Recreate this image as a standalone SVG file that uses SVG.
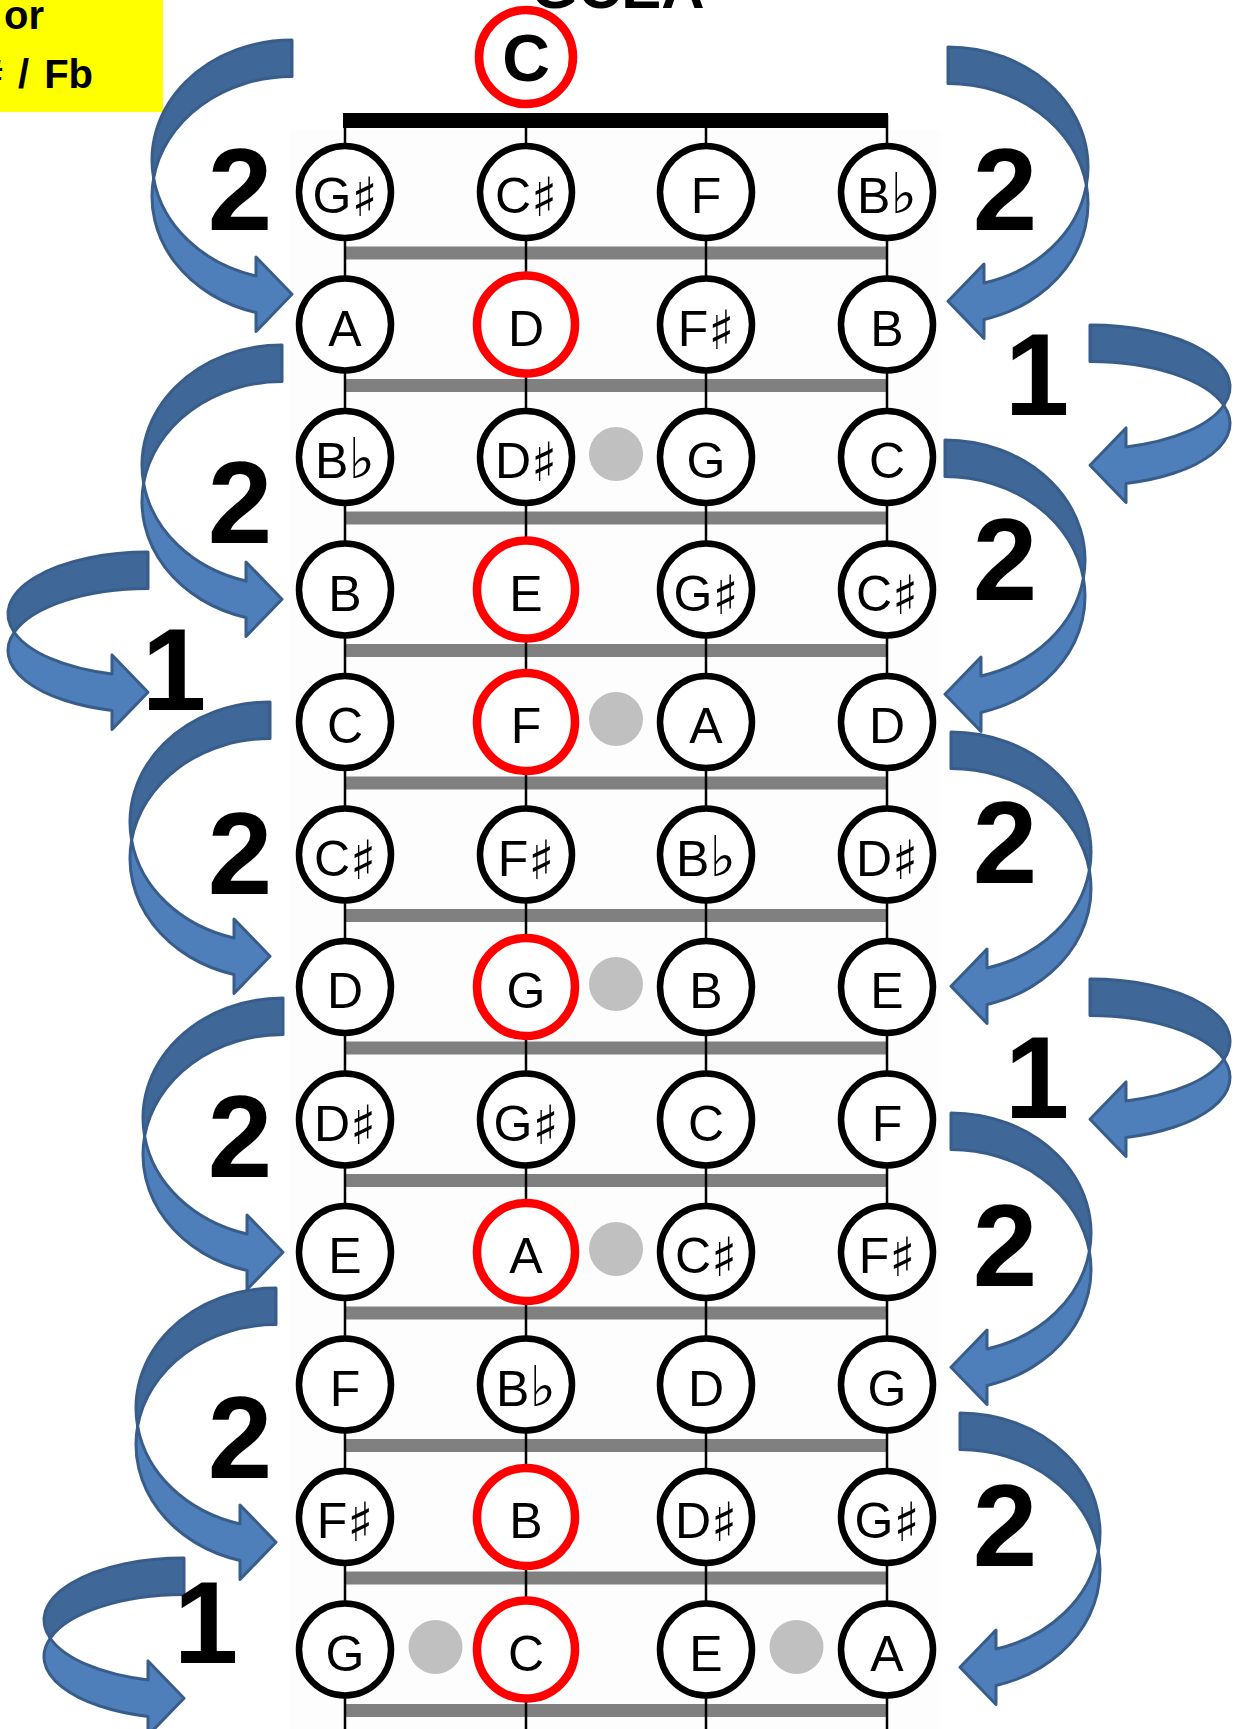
<svg xmlns="http://www.w3.org/2000/svg" xmlns:xlink="http://www.w3.org/1999/xlink" width="1240" height="1729" viewBox="0 0 1240 1729">
<style>
.c{fill:#fff;stroke:#000;stroke-width:6.5}
.r{fill:#fff;stroke:#ff0000;stroke-width:8.5}
.n{font-family:"Liberation Sans",Arial,sans-serif;font-size:50px;fill:#000;text-anchor:middle}
.s{font-family:"DejaVu Sans",sans-serif;font-size:54px}
.f{font-family:"DejaVu Sans",sans-serif;font-size:56px}
.num{font-family:"Liberation Sans",Arial,sans-serif;font-weight:bold;font-size:116px;fill:#000;text-anchor:middle}
.fret{fill:#808080}
.str{stroke:#000;stroke-width:2.5}
.dot{fill:#c0c0c0}
.back{fill:#3f6797;stroke:#385d8a;stroke-width:3;stroke-linejoin:round}
.front{fill:#4e7fbb;stroke:#385d8a;stroke-width:3;stroke-linejoin:round}
.hd{font-family:"Liberation Sans",Arial,sans-serif;font-weight:bold;fill:#000}
</style>
<defs>
<g id="bigArrow">
<path class="back" d="M0 0 A140 120 0 0 0 -138.37 138.25 A140 120 0 0 1 0 36.5 Z"/>
<path class="front" d="M-138.37 138.25 A140 120 0 0 0 -36 272.47 L-36 291.47 L0 254.22 L-36 216.97 L-36 235.97 A140 120 0 0 1 -138.37 138.25 Z"/>
</g>
<g id="smallArrow">
<path class="back" d="M0 0 A140 62 0 0 0 -133.8 80.25 A140 62 0 0 1 0 36.5 Z"/>
<path class="front" d="M-133.8 80.25 A140 62 0 0 0 -36 158.42 L-36 177.42 L0 140.17 L-36 102.92 L-36 121.92 A140 62 0 0 1 -133.8 80.25 Z"/>
</g>
</defs>
<rect width="1240" height="1729" fill="#fff"/>
<g id="header">
<rect x="0" y="0" width="163" height="112" fill="#ffff00"/>
<text class="hd" x="4" y="29" font-size="40">or</text>
<text class="hd" x="93" y="88" font-size="40" text-anchor="end" word-spacing="4"># / Fb</text>
<text class="hd" x="618" y="8" font-size="60" text-anchor="middle">GCEA</text>
</g>
<g id="fretboard">
<rect x="290" y="130" width="650" height="1599" fill="#fdfdfd"/>
<rect class="fret" x="345" y="246.5" width="542" height="13"/>
<rect class="fret" x="345" y="379" width="542" height="13"/>
<rect class="fret" x="345" y="511.5" width="542" height="13"/>
<rect class="fret" x="345" y="644" width="542" height="13"/>
<rect class="fret" x="345" y="776.5" width="542" height="13"/>
<rect class="fret" x="345" y="909" width="542" height="13"/>
<rect class="fret" x="345" y="1041.5" width="542" height="13"/>
<rect class="fret" x="345" y="1174" width="542" height="13"/>
<rect class="fret" x="345" y="1306.5" width="542" height="13"/>
<rect class="fret" x="345" y="1439" width="542" height="13"/>
<rect class="fret" x="345" y="1571.5" width="542" height="13"/>
<rect class="fret" x="345" y="1704" width="542" height="13"/>
<line class="str" x1="345" y1="115" x2="345" y2="1729"/>
<line class="str" x1="526" y1="115" x2="526" y2="1729"/>
<line class="str" x1="706" y1="115" x2="706" y2="1729"/>
<line class="str" x1="887" y1="115" x2="887" y2="1729"/>
<rect x="343" y="113" width="545" height="15" fill="#000"/>
<circle class="dot" cx="616" cy="454" r="27"/>
<circle class="dot" cx="616" cy="719" r="27"/>
<circle class="dot" cx="616" cy="984" r="27"/>
<circle class="dot" cx="616" cy="1249" r="27"/>
<circle class="dot" cx="435.5" cy="1647" r="27"/>
<circle class="dot" cx="796.5" cy="1647" r="27"/>
</g>
<g id="open-C"><circle class="r" cx="526" cy="57" r="47"/><text class="hd" x="526" y="81" font-size="66" text-anchor="middle">C</text></g>
<g id="n1-1"><circle class="c" cx="345" cy="192" r="46"/><text class="n" x="345" y="213">G<tspan class="s" dy="3">♯</tspan></text></g>
<g id="n1-2"><circle class="c" cx="526" cy="192" r="46"/><text class="n" x="526" y="213">C<tspan class="s" dy="3">♯</tspan></text></g>
<g id="n1-3"><circle class="c" cx="706" cy="192" r="46"/><text class="n" x="706" y="213">F</text></g>
<g id="n1-4"><circle class="c" cx="887" cy="192" r="46"/><text class="n" x="887" y="213">B<tspan class="f">♭</tspan></text></g>
<g id="n2-1"><circle class="c" cx="345" cy="324.5" r="46"/><text class="n" x="345" y="345.5">A</text></g>
<g id="n2-2"><circle class="r" cx="526" cy="324.5" r="49"/><text class="n" x="526" y="345.5">D</text></g>
<g id="n2-3"><circle class="c" cx="706" cy="324.5" r="46"/><text class="n" x="706" y="345.5">F<tspan class="s" dy="3">♯</tspan></text></g>
<g id="n2-4"><circle class="c" cx="887" cy="324.5" r="46"/><text class="n" x="887" y="345.5">B</text></g>
<g id="n3-1"><circle class="c" cx="345" cy="457" r="46"/><text class="n" x="345" y="478">B<tspan class="f">♭</tspan></text></g>
<g id="n3-2"><circle class="c" cx="526" cy="457" r="46"/><text class="n" x="526" y="478">D<tspan class="s" dy="3">♯</tspan></text></g>
<g id="n3-3"><circle class="c" cx="706" cy="457" r="46"/><text class="n" x="706" y="478">G</text></g>
<g id="n3-4"><circle class="c" cx="887" cy="457" r="46"/><text class="n" x="887" y="478">C</text></g>
<g id="n4-1"><circle class="c" cx="345" cy="589.5" r="46"/><text class="n" x="345" y="610.5">B</text></g>
<g id="n4-2"><circle class="r" cx="526" cy="589.5" r="49"/><text class="n" x="526" y="610.5">E</text></g>
<g id="n4-3"><circle class="c" cx="706" cy="589.5" r="46"/><text class="n" x="706" y="610.5">G<tspan class="s" dy="3">♯</tspan></text></g>
<g id="n4-4"><circle class="c" cx="887" cy="589.5" r="46"/><text class="n" x="887" y="610.5">C<tspan class="s" dy="3">♯</tspan></text></g>
<g id="n5-1"><circle class="c" cx="345" cy="722" r="46"/><text class="n" x="345" y="743">C</text></g>
<g id="n5-2"><circle class="r" cx="526" cy="722" r="49"/><text class="n" x="526" y="743">F</text></g>
<g id="n5-3"><circle class="c" cx="706" cy="722" r="46"/><text class="n" x="706" y="743">A</text></g>
<g id="n5-4"><circle class="c" cx="887" cy="722" r="46"/><text class="n" x="887" y="743">D</text></g>
<g id="n6-1"><circle class="c" cx="345" cy="854.5" r="46"/><text class="n" x="345" y="875.5">C<tspan class="s" dy="3">♯</tspan></text></g>
<g id="n6-2"><circle class="c" cx="526" cy="854.5" r="46"/><text class="n" x="526" y="875.5">F<tspan class="s" dy="3">♯</tspan></text></g>
<g id="n6-3"><circle class="c" cx="706" cy="854.5" r="46"/><text class="n" x="706" y="875.5">B<tspan class="f">♭</tspan></text></g>
<g id="n6-4"><circle class="c" cx="887" cy="854.5" r="46"/><text class="n" x="887" y="875.5">D<tspan class="s" dy="3">♯</tspan></text></g>
<g id="n7-1"><circle class="c" cx="345" cy="987" r="46"/><text class="n" x="345" y="1008">D</text></g>
<g id="n7-2"><circle class="r" cx="526" cy="987" r="49"/><text class="n" x="526" y="1008">G</text></g>
<g id="n7-3"><circle class="c" cx="706" cy="987" r="46"/><text class="n" x="706" y="1008">B</text></g>
<g id="n7-4"><circle class="c" cx="887" cy="987" r="46"/><text class="n" x="887" y="1008">E</text></g>
<g id="n8-1"><circle class="c" cx="345" cy="1119.5" r="46"/><text class="n" x="345" y="1140.5">D<tspan class="s" dy="3">♯</tspan></text></g>
<g id="n8-2"><circle class="c" cx="526" cy="1119.5" r="46"/><text class="n" x="526" y="1140.5">G<tspan class="s" dy="3">♯</tspan></text></g>
<g id="n8-3"><circle class="c" cx="706" cy="1119.5" r="46"/><text class="n" x="706" y="1140.5">C</text></g>
<g id="n8-4"><circle class="c" cx="887" cy="1119.5" r="46"/><text class="n" x="887" y="1140.5">F</text></g>
<g id="n9-1"><circle class="c" cx="345" cy="1252" r="46"/><text class="n" x="345" y="1273">E</text></g>
<g id="n9-2"><circle class="r" cx="526" cy="1252" r="49"/><text class="n" x="526" y="1273">A</text></g>
<g id="n9-3"><circle class="c" cx="706" cy="1252" r="46"/><text class="n" x="706" y="1273">C<tspan class="s" dy="3">♯</tspan></text></g>
<g id="n9-4"><circle class="c" cx="887" cy="1252" r="46"/><text class="n" x="887" y="1273">F<tspan class="s" dy="3">♯</tspan></text></g>
<g id="n10-1"><circle class="c" cx="345" cy="1384.5" r="46"/><text class="n" x="345" y="1405.5">F</text></g>
<g id="n10-2"><circle class="c" cx="526" cy="1384.5" r="46"/><text class="n" x="526" y="1405.5">B<tspan class="f">♭</tspan></text></g>
<g id="n10-3"><circle class="c" cx="706" cy="1384.5" r="46"/><text class="n" x="706" y="1405.5">D</text></g>
<g id="n10-4"><circle class="c" cx="887" cy="1384.5" r="46"/><text class="n" x="887" y="1405.5">G</text></g>
<g id="n11-1"><circle class="c" cx="345" cy="1517" r="46"/><text class="n" x="345" y="1538">F<tspan class="s" dy="3">♯</tspan></text></g>
<g id="n11-2"><circle class="r" cx="526" cy="1517" r="49"/><text class="n" x="526" y="1538">B</text></g>
<g id="n11-3"><circle class="c" cx="706" cy="1517" r="46"/><text class="n" x="706" y="1538">D<tspan class="s" dy="3">♯</tspan></text></g>
<g id="n11-4"><circle class="c" cx="887" cy="1517" r="46"/><text class="n" x="887" y="1538">G<tspan class="s" dy="3">♯</tspan></text></g>
<g id="n12-1"><circle class="c" cx="345" cy="1649.5" r="46"/><text class="n" x="345" y="1670.5">G</text></g>
<g id="n12-2"><circle class="r" cx="526" cy="1649.5" r="49"/><text class="n" x="526" y="1670.5">C</text></g>
<g id="n12-3"><circle class="c" cx="706" cy="1649.5" r="46"/><text class="n" x="706" y="1670.5">E</text></g>
<g id="n12-4"><circle class="c" cx="887" cy="1649.5" r="46"/><text class="n" x="887" y="1670.5">A</text></g>
<g id="connectors">
<use xlink:href="#bigArrow" href="#bigArrow" transform="translate(292 40)"/>
<use xlink:href="#bigArrow" href="#bigArrow" transform="translate(282 345)"/>
<use xlink:href="#smallArrow" href="#smallArrow" transform="translate(148 552)"/>
<use xlink:href="#bigArrow" href="#bigArrow" transform="translate(270 702)"/>
<use xlink:href="#bigArrow" href="#bigArrow" transform="translate(283 998)"/>
<use xlink:href="#bigArrow" href="#bigArrow" transform="translate(276 1288)"/>
<use xlink:href="#smallArrow" href="#smallArrow" transform="translate(184 1558)"/>
<use xlink:href="#bigArrow" href="#bigArrow" transform="translate(948 47) scale(-1 1)"/>
<use xlink:href="#smallArrow" href="#smallArrow" transform="translate(1090 325) scale(-1 1)"/>
<use xlink:href="#bigArrow" href="#bigArrow" transform="translate(945 440) scale(-1 1)"/>
<use xlink:href="#bigArrow" href="#bigArrow" transform="translate(951 732) scale(-1 1)"/>
<use xlink:href="#smallArrow" href="#smallArrow" transform="translate(1090 979) scale(-1 1)"/>
<use xlink:href="#bigArrow" href="#bigArrow" transform="translate(951 1113) scale(-1 1)"/>
<use xlink:href="#bigArrow" href="#bigArrow" transform="translate(960 1413) scale(-1 1)"/>
</g>
<g id="labels">
<text class="num" x="240" y="230">2</text>
<text class="num" x="240" y="543">2</text>
<text class="num" x="174" y="710">1</text>
<text class="num" x="240" y="894">2</text>
<text class="num" x="240" y="1177">2</text>
<text class="num" x="240" y="1478">2</text>
<text class="num" x="206" y="1663">1</text>
<text class="num" x="1005" y="230">2</text>
<text class="num" x="1037" y="415">1</text>
<text class="num" x="1005" y="600">2</text>
<text class="num" x="1005" y="883">2</text>
<text class="num" x="1037" y="1118">1</text>
<text class="num" x="1005" y="1286">2</text>
<text class="num" x="1005" y="1566">2</text>
</g>
</svg>
